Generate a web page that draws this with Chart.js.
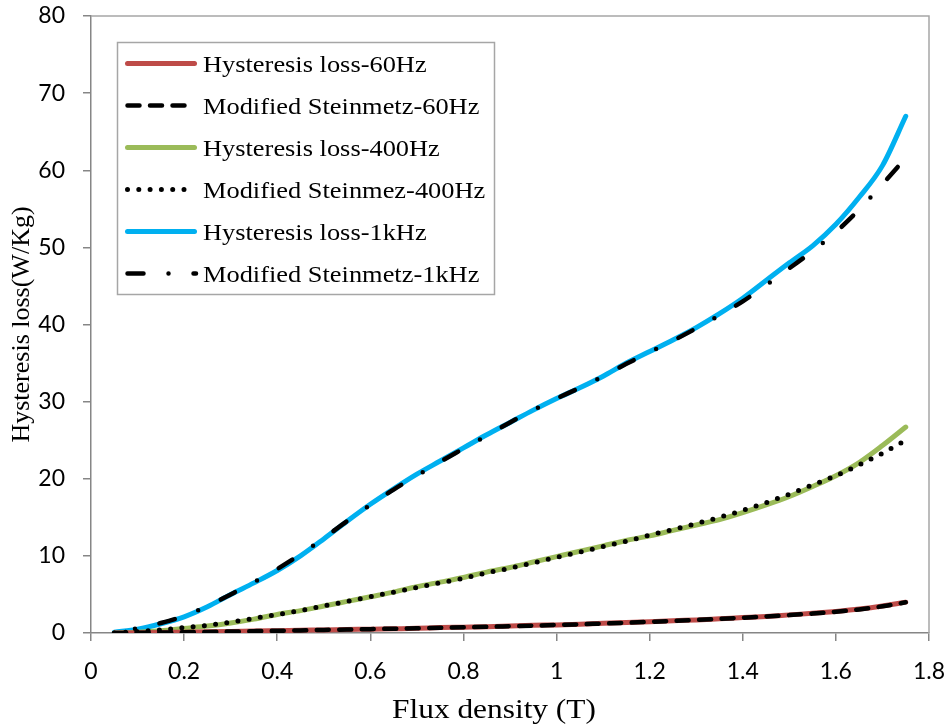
<!DOCTYPE html>
<html>
<head>
<meta charset="utf-8">
<script src="https://cdn.jsdelivr.net/npm/chart.js@4.4.1/dist/chart.umd.min.js"></script>
<style>
  html, body { margin: 0; padding: 0; background: #ffffff; }
  canvas { display: block; }
</style>
</head>
<body>
<canvas id="lossChart" width="951" height="727"></canvas>
<script>
// Flux density sample points (T)
const fluxDensity = [0.05, 0.10, 0.15, 0.20, 0.25, 0.30, 0.35, 0.40, 0.45, 0.50,
                     0.55, 0.60, 0.65, 0.70, 0.75, 0.80, 0.85, 0.90, 0.95, 1.00,
                     1.05, 1.10, 1.15, 1.20, 1.25, 1.30, 1.35, 1.40, 1.45, 1.50,
                     1.55, 1.60, 1.65, 1.70, 1.75];

// Hysteresis loss (W/Kg), measured and modified Steinmetz model
const hysteresisLoss60Hz = [0.0, 0.02, 0.05, 0.1, 0.15, 0.2, 0.25, 0.3, 0.35, 0.4,
                            0.45, 0.5, 0.55, 0.6, 0.7, 0.75, 0.8, 0.9, 1.0, 1.05,
                            1.15, 1.25, 1.35, 1.45, 1.6, 1.7, 1.85, 2.0, 2.15, 2.35,
                            2.55, 2.8, 3.1, 3.5, 4.0];
const steinmetz60Hz = [0.0, 0.02, 0.05, 0.1, 0.14, 0.19, 0.24, 0.29, 0.34, 0.4,
                       0.45, 0.5, 0.56, 0.62, 0.68, 0.74, 0.8, 0.88, 0.96, 1.04,
                       1.13, 1.23, 1.33, 1.44, 1.56, 1.69, 1.83, 1.98, 2.14, 2.32,
                       2.52, 2.76, 3.06, 3.46, 3.98];
const hysteresisLoss400Hz = [0.0, 0.1, 0.3, 0.6, 0.9, 1.3, 1.8, 2.4, 2.9, 3.5,
                             4.1, 4.7, 5.3, 6.0, 6.6, 7.2, 7.9, 8.5, 9.2, 9.9,
                             10.6, 11.3, 12.0, 12.6, 13.3, 14.0, 14.7, 15.6, 16.6, 17.7,
                             19.0, 20.4, 22.1, 24.3, 26.7];
const steinmetz400Hz = [0.0, 0.2, 0.4, 0.7, 1.0, 1.4, 1.9, 2.4, 2.9, 3.5,
                        4.1, 4.7, 5.3, 5.9, 6.5, 7.1, 7.8, 8.4, 9.1, 9.8,
                        10.5, 11.2, 11.9, 12.7, 13.4, 14.2, 15.0, 15.9, 16.9, 18.0,
                        19.2, 20.4, 21.8, 23.3, 25.0];
const hysteresisLoss1kHz = [0.1, 0.5, 1.2, 2.1, 3.4, 5.0, 6.5, 8.1, 10.0, 12.2,
                            14.5, 16.7, 18.7, 20.6, 22.3, 24.0, 25.7, 27.3, 28.9, 30.4,
                            31.8, 33.3, 35.0, 36.5, 38.0, 39.6, 41.4, 43.4, 45.7, 48.0,
                            50.2, 53.0, 56.5, 60.6, 67.0];
const steinmetz1kHz = [0.1, 0.6, 1.3, 2.2, 3.5, 5.0, 6.6, 8.3, 10.2, 12.3,
                       14.5, 16.6, 18.6, 20.4, 22.2, 23.9, 25.6, 27.3, 28.9, 30.4,
                       31.8, 33.3, 34.9, 36.4, 37.9, 39.5, 41.2, 43.0, 45.1, 47.3,
                       49.5, 52.0, 54.9, 58.2, 61.6];

const seriesNames = ['Hysteresis loss-60Hz', 'Modified Steinmetz-60Hz',
                     'Hysteresis loss-400Hz', 'Modified Steinmez-400Hz',
                     'Hysteresis loss-1kHz', 'Modified Steinmetz-1kHz'];

const xTickLabels = ['0', '0.2', '0.4', '0.6', '0.8', '1', '1.2', '1.4', '1.6', '1.8'];
const yTickLabels = ['0', '10', '20', '30', '40', '50', '60', '70', '80'];
const xAxisTitle = 'Flux density (T)';
const yAxisTitle = 'Hysteresis loss(W/Kg)';

const toPoints = values => values.map((v, i) => ({ x: fluxDensity[i], y: v }));

const RED = '#BE4B48', GREEN = '#9BBB59', BLUE = '#00B0F0', INK = '#000000';

const datasets = [
  { label: seriesNames[0], data: toPoints(hysteresisLoss60Hz), borderColor: RED, borderWidth: 5, order: 2 },
  { label: seriesNames[1], data: toPoints(steinmetz60Hz), borderColor: INK, borderWidth: 4.5, borderDash: [12, 10.5], order: 1 },
  { label: seriesNames[2], data: toPoints(hysteresisLoss400Hz), borderColor: GREEN, borderWidth: 5, order: 2 },
  { label: seriesNames[3], data: toPoints(steinmetz400Hz), borderColor: INK, borderWidth: 5, borderDash: [0, 11.3], order: 1 },
  { label: seriesNames[4], data: toPoints(hysteresisLoss1kHz), borderColor: BLUE, borderWidth: 5, order: 2 },
  { label: seriesNames[5], data: toPoints(steinmetz1kHz), borderColor: INK, borderWidth: 4.5, borderDash: [16, 25, 0, 25], borderDashOffset: 20, order: 1 }
].map(d => Object.assign({
  fill: false,
  pointRadius: 0,
  pointHoverRadius: 0,
  borderCapStyle: 'round',
  borderJoinStyle: 'round',
  cubicInterpolationMode: 'monotone'
}, d));

const AXIS_GREY = '#868686';
const FRAME_GREY = '#A6A6A6';
const SERIF = '"Liberation Serif", "Times New Roman", serif';

// Top and right edges of the plot frame
const framePlugin = {
  id: 'plotFrame',
  afterDraw(chart) {
    const { ctx, chartArea: a } = chart;
    ctx.save();
    ctx.strokeStyle = FRAME_GREY;
    ctx.lineWidth = 1.5;
    ctx.beginPath();
    ctx.moveTo(a.left, a.top);
    ctx.lineTo(a.right, a.top);
    ctx.lineTo(a.right, a.bottom);
    ctx.stroke();
    ctx.restore();
  }
};

// Horizontal axis caption, set in a slightly wide serif
const xCaption = {
  id: 'xCaption',
  afterDraw(chart) {
    const ctx = chart.ctx;
    ctx.save();
    ctx.translate(494, 718);
    ctx.scale(1.12, 1);
    ctx.fillStyle = '#000000';
    ctx.font = '28px ' + SERIF;
    ctx.textAlign = 'center';
    ctx.textBaseline = 'alphabetic';
    ctx.fillText(xAxisTitle, 0, 0);
    ctx.restore();
  }
};

// Boxed legend in the upper left of the plot
const boxedLegend = {
  id: 'boxedLegend',
  afterDraw(chart) {
    const ctx = chart.ctx;
    const box = { x: 117.5, y: 42.5, w: 377, h: 252 };
    ctx.save();
    ctx.fillStyle = '#ffffff';
    ctx.fillRect(box.x, box.y, box.w, box.h);
    ctx.strokeStyle = FRAME_GREY;
    ctx.lineWidth = 1.5;
    ctx.strokeRect(box.x, box.y, box.w, box.h);

    const sampleEnds = [194.5, 185, 194.5, 191, 194.5, 196];
    chart.data.datasets.forEach((ds, i) => {
      const rowY = 63.5 + i * 42;
      ctx.beginPath();
      ctx.setLineDash(ds.borderDash || []);
      ctx.lineDashOffset = 0;
      ctx.lineCap = 'round';
      ctx.strokeStyle = ds.borderColor;
      ctx.lineWidth = ds.borderWidth;
      ctx.moveTo(127.5, rowY);
      ctx.lineTo(sampleEnds[i], rowY);
      ctx.stroke();

      ctx.setLineDash([]);
      ctx.save();
      ctx.translate(203, rowY + 8);
      ctx.scale(1.1, 1);
      ctx.fillStyle = '#000000';
      ctx.font = '24px ' + SERIF;
      ctx.textBaseline = 'alphabetic';
      ctx.textAlign = 'left';
      ctx.fillText(ds.label, 0, 0);
      ctx.restore();
    });
    ctx.restore();
  }
};

const tickFont = { family: 'Lato, "Open Sans", sans-serif', size: 23 };

new Chart(document.getElementById('lossChart'), {
  type: 'line',
  data: { datasets },
  options: {
    responsive: false,
    devicePixelRatio: 1,
    animation: false,
    events: [],
    layout: { padding: { left: 0, right: 22, top: 16, bottom: 0 } },
    plugins: {
      legend: { display: false },
      tooltip: { enabled: false }
    },
    scales: {
      x: {
        type: 'linear',
        min: 0,
        max: 1.8,
        afterFit(scale) {
          scale.height = 94;
          scale.paddingLeft = 0;
          scale.paddingRight = 0;
        },
        border: { display: true, color: AXIS_GREY, width: 1.5 },
        grid: { display: true, drawOnChartArea: false, drawTicks: true, tickLength: 8, color: AXIS_GREY, lineWidth: 1.5 },
        ticks: {
          stepSize: 0.2,
          color: '#000000',
          font: tickFont,
          padding: 17,
          maxRotation: 0,
          autoSkip: false,
          callback: (value, index) => xTickLabels[index]
        },
        title: { display: false }
      },
      y: {
        type: 'linear',
        min: 0,
        max: 80,
        afterFit(scale) {
          scale.width = 91;
          scale.paddingTop = 0;
          scale.paddingBottom = 0;
        },
        border: { display: true, color: AXIS_GREY, width: 1.5 },
        grid: { display: true, drawOnChartArea: false, drawTicks: true, tickLength: 8, color: AXIS_GREY, lineWidth: 1.5 },
        ticks: {
          stepSize: 10,
          color: '#000000',
          font: tickFont,
          padding: 18,
          autoSkip: false,
          callback: (value, index) => yTickLabels[index]
        },
        title: {
          display: true,
          text: yAxisTitle,
          color: '#000000',
          font: { family: SERIF, size: 26, lineHeight: 1.2 },
          padding: { top: 7, bottom: 0 }
        }
      }
    }
  },
  plugins: [framePlugin, xCaption, boxedLegend]
});
</script>
</body>
</html>
